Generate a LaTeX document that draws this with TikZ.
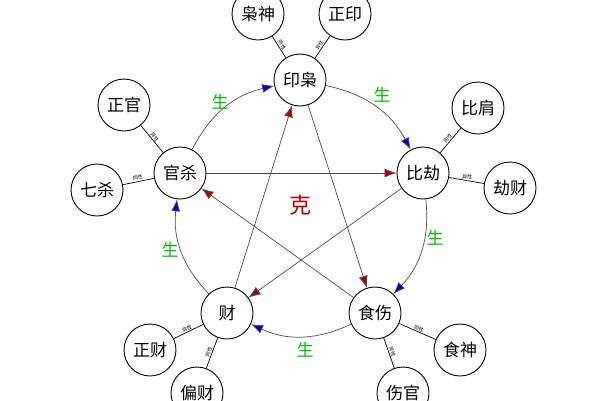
\documentclass[tikz,border=0pt]{standalone}
\usepackage{fontspec}
\setmainfont{Noto Sans CJK SC}
\usetikzlibrary{arrows.meta}
\begin{document}
\begin{tikzpicture}[x=1pt,y=-1pt,thick]
\tikzset{
  wx/.style={circle,draw,line width=0.9pt,minimum size=52pt,inner sep=0pt,font=\fontsize{17}{17}\selectfont},
  spoke/.style={draw,line width=0.7pt},
  tag/.style={midway,sloped,above,inner sep=0.8pt,font=\fontsize{5}{5}\selectfont},
  sheng/.style={-{Latex[length=12pt,width=9pt,fill=blue!80!black]},line width=0.7pt,draw=black!70},
  ke/.style={-{Latex[length=12pt,width=9pt,fill=red!70!black]},line width=0.7pt,draw=black!70},
  gen/.style={font=\fontsize{17}{17}\selectfont,text=green!75!black}
}
\useasboundingbox (0,0) rectangle (600,400);
\fill[white] (0,0) rectangle (600,400);

% main five
\node[wx] (yin) at (300,80) {印枭};
\node[wx] (bi) at (423,173) {比劫};
\node[wx] (shi) at (375,313) {食伤};
\node[wx] (cai) at (227,313) {财};
\node[wx] (guan) at (180,173) {官杀};

% outer ten
\node[wx] (xiao) at (258,14) {枭神};
\node[wx] (zy) at (345,14) {正印};
\node[wx] (bj) at (478,108) {比肩};
\node[wx] (jc) at (510,188) {劫财};
\node[wx] (ss) at (460,350) {食神};
\node[wx] (sg) at (403,393) {伤官};
\node[wx] (zc) at (150,350) {正财};
\node[wx] (pc) at (197,393) {偏财};
\node[wx] (zg) at (124,105) {正官};
\node[wx] (qs) at (97,190) {七杀};

% spokes
\draw[spoke] (yin) -- node[tag] {同性} (xiao);
\draw[spoke] (yin) -- node[tag] {异性} (zy);
\draw[spoke] (bi) -- node[tag] {同性} (bj);
\draw[spoke] (bi) -- node[tag] {异性} (jc);
\draw[spoke] (shi) -- node[tag] {同性} (ss);
\draw[spoke] (shi) -- node[tag] {异性} (sg);
\draw[spoke] (cai) -- node[tag] {异性} (zc);
\draw[spoke] (cai) -- node[tag] {同性} (pc);
\draw[spoke] (guan) -- node[tag] {异性} (zg);
\draw[spoke] (guan) -- node[tag] {同性} (qs);

% sheng cycle
\draw[sheng] (guan) to[bend left=25] (yin);
\draw[sheng] (yin) to[bend left=25] (bi);
\draw[sheng] (bi) to[bend left=25] (shi);
\draw[sheng] (shi) to[bend left=25] (cai);
\draw[sheng] (cai) to[bend left=25] (guan);
\node[gen] (s1) at (220,102) {生};
\node[gen] (s2) at (382,95) {生};
\node[gen] (s3) at (435,238) {生};
\node[gen] (s4) at (305,350) {生};
\node[gen] (s5) at (170,250) {生};

% ke star
\draw[ke] (guan) -- (bi);
\draw[ke] (bi) -- (cai);
\draw[ke] (cai) -- (yin);
\draw[ke] (yin) -- (shi);
\draw[ke] (shi) -- (guan);
\node[font=\fontsize{22}{22}\selectfont,text=red!75!black] (k) at (300,205) {克};
\end{tikzpicture}
\end{document}
